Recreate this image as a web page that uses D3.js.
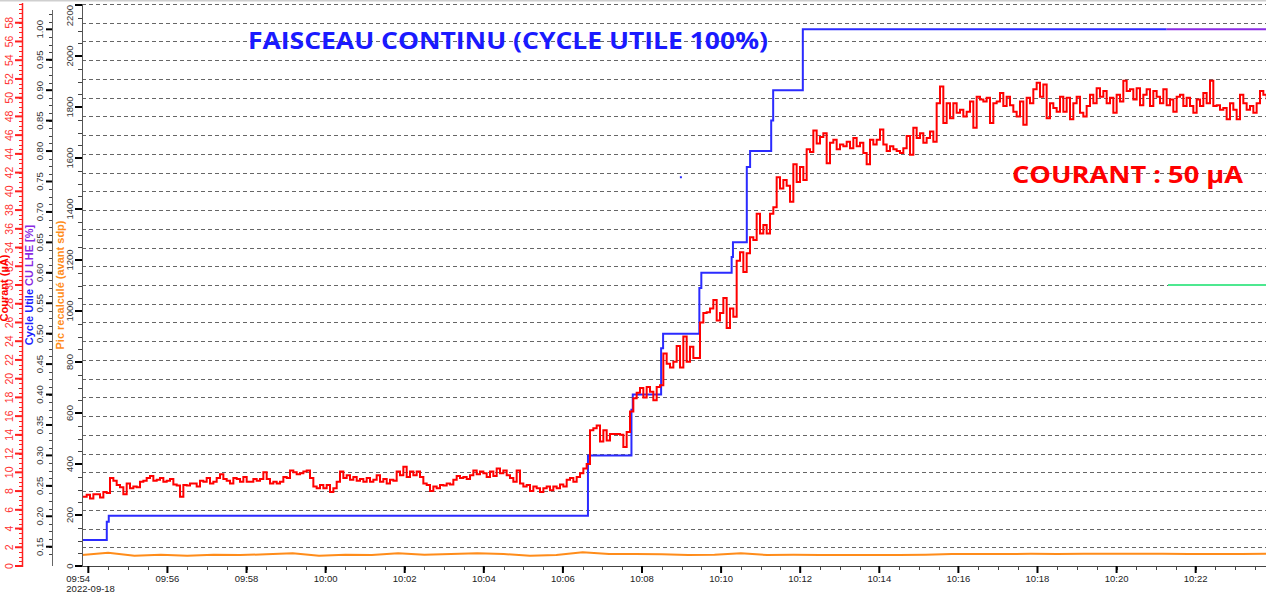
<!DOCTYPE html>
<html><head><meta charset="utf-8">
<script src="https://cdn.jsdelivr.net/npm/d3@7"></script>
<style>html,body{margin:0;padding:0;background:#fff;overflow:hidden}svg{display:block}</style>
</head><body>
<svg id="chart" width="1266" height="603"></svg>
<script>
// ---------------- DATA ----------------
const dateStr = "2022-09-18";
const timeDomain = ["09:53:50.4", "10:23:46.7"];
const timeTickMinutes = 2;

// Courant (µA) – red, sampled every ~5 s from courantStart
const courantStart = "09:53:47.4";
const courantStepSec = 5.057;
const courantValues = [
 7.4,7.4,7.6,7.2,7.65,7.65,7.3,7.9,7.8,9.4,9.1,8.65,8.4,7.65,8.8,8.3,8.5,8.4,9.0,9.1,
 9.4,9.6,9.1,9.2,9.4,9.0,9.1,9.3,8.7,8.6,7.4,8.65,8.6,8.8,8.8,8.5,9.1,9.0,9.4,8.8,
 9.0,9.4,9.8,9.3,9.1,8.8,9.4,9.3,9.0,9.5,9.0,9.0,9.3,9.1,9.3,10.0,9.3,8.8,9.0,8.8,
 9.0,9.5,9.4,10.2,10.0,9.8,9.9,10.1,10.2,9.4,8.5,8.3,8.65,8.3,8.65,7.9,8.3,9.0,10.1,
 9.4,9.7,9.2,9.5,9.1,9.3,9.0,9.4,9.0,9.2,9.7,9.0,9.3,8.8,9.2,9.1,10.1,9.7,10.6,9.5,
 10.1,9.7,10.1,9.5,8.8,8.65,8.0,8.5,8.3,8.65,8.6,8.8,8.7,9.2,9.6,9.4,9.5,9.3,9.7,10.2,
 9.8,10.1,9.9,9.5,10.1,9.6,10.4,9.9,10.2,9.7,9.4,9.0,10.2,8.8,8.5,8.65,8.0,8.5,8.3,7.9,
 8.3,8.5,8.1,8.5,8.3,8.7,8.5,9.2,9.4,9.0,9.5,9.9,10.4,10.9,
 14.5,14.7,15.0,13.3,14.5,13.4,14.1,14.1,14.1,14.0,12.7,14.3,16.5,17.9,18.5,19.0,18.0,19.1,18.6,17.7,
 19.1,19.3,22.7,21.6,21.2,21.8,23.5,21.2,24.5,21.8,23.4,22.2,22.2,26.0,27.0,27.1,27.5,28.4,26.2,27.0,
 28.6,25.4,27.5,26.6,32.6,33.5,31.4,33.4,35.1,34.8,37.6,35.5,36.4,35.5,37.6,38.3,41.5,40.3,41.2,40.6,
 38.9,42.9,41.0,42.6,41.2,44.5,44.2,46.5,45.1,45.8,46.2,
 43.0,45.2,45.5,44.5,45.0,44.8,45.3,44.6,45.7,44.8,45.2,44.1,42.9,45.5,45.0,45.5,46.6,45.0,44.3,44.8,
 44.5,44.3,44.1,44.6,45.9,43.9,46.8,45.7,46.2,45.2,45.7,46.4,45.3,49.4,51.2,47.3,49.4,47.8,49.4,48.4,
 48.7,48.0,48.5,49.6,46.8,50.1,49.8,49.6,50.0,47.3,49.4,49.6,50.5,49.1,50.1,49.2,48.5,48.0,49.6,47.1,
 50.0,49.4,50.9,51.6,50.1,51.4,47.8,49.4,48.9,48.5,50.1,48.5,50.0,47.7,49.4,50.1,48.4,48.0,49.1,50.3,
 49.4,51.0,50.1,50.7,49.4,50.0,48.4,50.3,49.6,51.8,50.7,50.9,49.8,51.0,49.2,50.3,50.9,49.1,50.7,50.1,
 49.4,50.9,49.2,49.8,48.5,50.1,50.3,49.1,50.0,49.1,48.4,49.8,49.1,50.5,49.4,51.8,49.1,49.2,48.7,48.9,
 47.7,49.4,48.7,47.7,50.3,49.4,48.7,49.1,48.4,49.4,50.7,50.3,49.8
];

// Cycle utile (blue, step)
const cycleTimes = ["09:53:50","09:54:28","09:54:31","10:06:38","10:07:44","10:07:46","10:08:29","10:08:32",
  "10:09:27","10:09:30","10:10:16","10:10:18","10:10:39","10:10:44","10:11:16","10:11:19","10:12:04","10:21:16"];
const cycleValues = [0.161,0.191,0.201,0.300,0.375,0.400,0.476,0.500,
  0.575,0.600,0.626,0.650,0.774,0.800,0.850,0.900,1.000,1.000];

// CU LHE (purple)
const cuLheTimes = ["10:21:16","10:23:47"];
const cuLheValues = [1.0, 1.0];

// isolated blue point
const cyclePointTimes = ["10:08:59"];
const cyclePointValues = [0.757];

// green level (red scale)
const greenTimes = ["10:21:18","10:23:47"];
const greenValues = [30, 30];

// Pic recalculé (orange), every 40 s
const picStart = "09:53:50";
const picStepSec = 40;
const picValues = [43,52,40,44,40,44,43,46,50,40,44,43,50,44,47,50,47,40,43,54,
  47,47,46,43,44,50,43,44,43,43,43,43,44,47,47,47,48,47,48,48,48,48,47,47,47,48];

// Axis ticks
const courantTicks = d3.range(0, 60, 2);          // labels 0..58
const cycleTicks = d3.range(0.15, 1.0001, 0.05);  // 0.15..1.00
const picTicks = d3.range(0, 2201, 200);          // 0..2200

// ---------------- LAYOUT ----------------
const L = 82, R = 1266, T = 4, B = 566;
const toDate = s => { const p = s.split(":").map(Number); return new Date(Date.UTC(2022,8,18,p[0],p[1],0) + p[2]*1000); };

const x = d3.scaleUtc().domain(timeDomain.map(toDate)).range([L, R]);
const yCour = d3.scaleLinear().domain([0, 60]).range([B, T]);
const yCyc = d3.scaleLinear().domain([0.1183, 1.0416]).range([B, T]);
const yPic = d3.scaleLinear().domain([0, 2204]).range([B, T]);

const svg = d3.select("#chart");
const tickFont = "'Liberation Sans', Arial, sans-serif";

// top border
svg.append("line").attr("x1",0).attr("x2",1266).attr("y1",0.5).attr("y2",0.5).attr("stroke","#cfcfcf").attr("stroke-width",2);

// grid
const grid = svg.append("g");
grid.selectAll("line").data(d3.range(2, 61, 2)).join("line")
  .attr("x1", L).attr("x2", R)
  .attr("y1", d => Math.round(yCour(d)) + 0.5).attr("y2", d => Math.round(yCour(d)) + 0.5)
  .attr("stroke", "#666").attr("stroke-width", 1).attr("stroke-dasharray", "4,3");

// clip
svg.append("clipPath").attr("id","clip").append("rect").attr("x",L).attr("y",T-2).attr("width",R-L).attr("height",B-T+2);
const plot = svg.append("g").attr("clip-path","url(#clip)");

// orange
const picData = picValues.map((v,i)=>({t:new Date(toDate(picStart).getTime()+i*picStepSec*1000), v}));
plot.append("path").datum(picData)
  .attr("d", d3.line().x(d=>x(d.t)).y(d=>yPic(d.v)))
  .attr("fill","none").attr("stroke","#ff8c1a").attr("stroke-width",2);

// blue cycle
const cycData = cycleTimes.map((t,i)=>({t:toDate(t), v:cycleValues[i]}));
plot.append("path").datum(cycData)
  .attr("d", d3.line().x(d=>x(d.t)).y(d=>yCyc(d.v)).curve(d3.curveStepAfter))
  .attr("fill","none").attr("stroke","#2b2bff").attr("stroke-width",2);

// purple
const cuData = cuLheTimes.map((t,i)=>({t:toDate(t), v:cuLheValues[i]}));
plot.append("path").datum(cuData)
  .attr("d", d3.line().x(d=>x(d.t)).y(d=>yCyc(d.v)))
  .attr("fill","none").attr("stroke","#8a2be2").attr("stroke-width",2);

// green
const grData = greenTimes.map((t,i)=>({t:toDate(t), v:greenValues[i]}));
plot.append("path").datum(grData)
  .attr("d", d3.line().x(d=>x(d.t)).y(d=>yCour(d.v)))
  .attr("fill","none").attr("stroke","#4de890").attr("stroke-width",2);

// red courant
const courData = courantValues.map((v,i)=>({t:new Date(toDate(courantStart).getTime()+i*courantStepSec*1000), v}));
plot.append("path").datum(courData)
  .attr("d", d3.line().x(d=>x(d.t)).y(d=>yCour(d.v)).curve(d3.curveStepAfter))
  .attr("fill","none").attr("stroke","#ff0000").attr("stroke-width",2);

// blue point
plot.selectAll("rect.pt").data(cyclePointTimes.map((t,i)=>({t:toDate(t), v:cyclePointValues[i]}))).join("rect")
  .attr("x", d=>x(d.t)-1).attr("y", d=>yCyc(d.v)-1).attr("width",2).attr("height",2).attr("fill","#2b2bff");

// ---------------- AXES ----------------
// x axis
const xa = svg.append("g");
xa.append("line").attr("x1",L).attr("x2",R).attr("y1",B+0.5).attr("y2",B+0.5).attr("stroke","#444").attr("stroke-width",1);
const minorX = d3.utcSecond.every(30).range(x.domain()[0], x.domain()[1]);
xa.selectAll("line.mn").data(minorX).join("line").attr("class","mn")
  .attr("x1",d=>Math.round(x(d))+0.5).attr("x2",d=>Math.round(x(d))+0.5).attr("y1",B).attr("y2",B+4).attr("stroke","#444");
const majorX = d3.utcMinute.every(timeTickMinutes).range(x.domain()[0], x.domain()[1]);
xa.selectAll("line.mj").data(majorX).join("line").attr("class","mj")
  .attr("x1",d=>x(d)).attr("x2",d=>x(d)).attr("y1",B).attr("y2",B+7).attr("stroke","#000").attr("stroke-width",2);
const fmt = d3.utcFormat("%H:%M");
xa.selectAll("text.lb").data(majorX).join("text").attr("class","lb")
  .attr("x",(d,i)=> i===0 ? x(d)-22 : x(d)).attr("y",B+16)
  .attr("text-anchor",(d,i)=> i===0 ? "start":"middle")
  .attr("font-family",tickFont).attr("font-size",9.5).attr("fill","#222").text(fmt);
xa.append("text").attr("x", x(majorX[0])-22).attr("y", B+26).attr("font-family",tickFont).attr("font-size",9.5).attr("fill","#222").text(dateStr);

// red axis
const AX1 = 22, AX2 = 52, AX3 = 82;
const ra = svg.append("g");
ra.append("line").attr("x1",AX1+0.5).attr("x2",AX1+0.5).attr("y1",T-1).attr("y2",B+1).attr("stroke","#ff2020").attr("stroke-width",1.5);
ra.selectAll("line.mn").data(d3.range(0, 60.01, 0.5)).join("line").attr("class","mn")
  .attr("x1",AX1-3).attr("x2",AX1).attr("y1",d=>Math.round(yCour(d))+0.5).attr("y2",d=>Math.round(yCour(d))+0.5).attr("stroke","#ff2020");
ra.selectAll("line.mj").data(courantTicks).join("line").attr("class","mj")
  .attr("x1",AX1-7).attr("x2",AX1).attr("y1",d=>yCour(d)).attr("y2",d=>yCour(d)).attr("stroke","#ff2020").attr("stroke-width",2);
ra.selectAll("text").data(courantTicks).join("text")
  .attr("transform",d=>`translate(13,${yCour(d)}) rotate(-90)`).attr("text-anchor","middle")
  .attr("font-family",tickFont).attr("font-size",10.5).attr("fill","#ff3030").text(d=>d);

// cycle axis
const ca = svg.append("g");
ca.append("line").attr("x1",AX2+0.5).attr("x2",AX2+0.5).attr("y1",T+6).attr("y2",B).attr("stroke","#666").attr("stroke-width",1);
ca.selectAll("line.mn").data(d3.range(0.1375, 1.03, 0.0125)).join("line").attr("class","mn")
  .attr("x1",AX2-3).attr("x2",AX2).attr("y1",d=>Math.round(yCyc(d))+0.5).attr("y2",d=>Math.round(yCyc(d))+0.5).attr("stroke","#444");
ca.selectAll("line.mj").data(cycleTicks).join("line").attr("class","mj")
  .attr("x1",AX2-6).attr("x2",AX2).attr("y1",d=>yCyc(d)).attr("y2",d=>yCyc(d)).attr("stroke","#000").attr("stroke-width",2);
ca.selectAll("text").data(cycleTicks).join("text")
  .attr("transform",d=>`translate(43,${yCyc(d)}) rotate(-90)`).attr("text-anchor","middle")
  .attr("font-family",tickFont).attr("font-size",9.5).attr("fill","#333").text(d=>d.toFixed(2));

// pic axis
const pa = svg.append("g");
pa.append("line").attr("x1",AX3+0.5).attr("x2",AX3+0.5).attr("y1",T).attr("y2",B+1).attr("stroke","#555").attr("stroke-width",1);
pa.selectAll("line.mn").data(d3.range(0, 2201, 50)).join("line").attr("class","mn")
  .attr("x1",AX3-4).attr("x2",AX3).attr("y1",d=>Math.round(yPic(d))+0.5).attr("y2",d=>Math.round(yPic(d))+0.5).attr("stroke","#444");
pa.selectAll("line.mj").data(picTicks).join("line").attr("class","mj")
  .attr("x1",AX3-7).attr("x2",AX3).attr("y1",d=>yPic(d)).attr("y2",d=>yPic(d)).attr("stroke","#000").attr("stroke-width",2);
pa.selectAll("text").data(picTicks).join("text")
  .attr("transform",d=>`translate(73,${yPic(d)}) rotate(-90)`)
  .attr("text-anchor",d=> d===2200 ? "end" : "middle")
  .attr("font-family",tickFont).attr("font-size",9.5).attr("fill","#333").text(d=>d);

// axis titles
const titleFont = "'Liberation Sans', Arial, sans-serif";
svg.append("text").attr("transform","translate(8,288) rotate(-90)").attr("text-anchor","middle")
  .attr("font-family",titleFont).attr("font-weight","bold").attr("font-size",11).attr("fill","#ff0000").text("Courant (µA)");
const ct = svg.append("text").attr("transform","translate(33,285) rotate(-90)").attr("text-anchor","middle")
  .attr("font-family",titleFont).attr("font-weight","bold").attr("font-size",11);
ct.append("tspan").attr("fill","#2020ff").text("Cycle Utile ");
ct.append("tspan").attr("fill","#8a2be2").text("CU LHE [%]");
svg.append("text").attr("transform","translate(64,285) rotate(-90)").attr("text-anchor","middle")
  .attr("font-family",titleFont).attr("font-weight","bold").attr("font-size",11).attr("fill","#ff8c1a").text("Pic recalculé (avant sdp)");

// annotations
svg.append("text").attr("x",248).attr("y",49).attr("font-family","'Open Sans', sans-serif").attr("font-weight","bold")
  .attr("font-size",24).attr("fill","#1a1aff").attr("textLength",520).attr("lengthAdjust","spacingAndGlyphs")
  .text("FAISCEAU CONTINU (CYCLE UTILE 100%)");
svg.append("text").attr("x",1012).attr("y",183).attr("font-family","'Open Sans', sans-serif").attr("font-weight","bold")
  .attr("font-size",24).attr("fill","#ff0000").attr("textLength",231).attr("lengthAdjust","spacingAndGlyphs")
  .text("COURANT : 50 µA");
</script>
</body></html>
